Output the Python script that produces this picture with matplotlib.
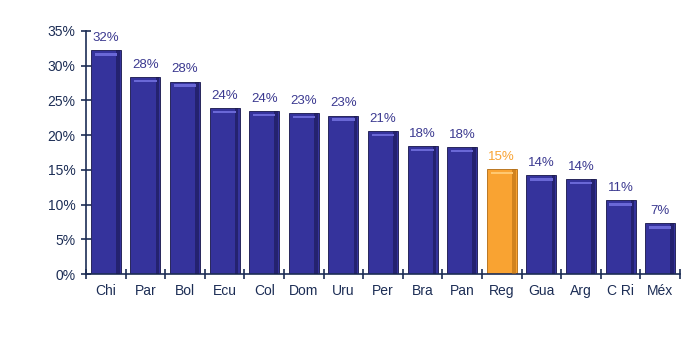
import numpy as np
import matplotlib
matplotlib.use('Agg')
import matplotlib.pyplot as plt
from matplotlib.ticker import FuncFormatter, FixedLocator

plt.rcParams['font.family'] = ['Liberation Sans', 'DejaVu Sans']

# Data
countries = ['Chi', 'Par', 'Bol', 'Ecu', 'Col', 'Dom', 'Uru', 'Per', 'Bra', 'Pan',
             'Reg', 'Gua', 'Arg', 'C Ri', 'Méx']
values = [32.2, 28.4, 27.7, 23.9, 23.5, 23.2, 22.8, 20.6, 18.4, 18.3,
          15.1, 14.2, 13.7, 10.6, 7.3]
highlight = 'Reg'

blue = '#35339c'
blue_dark = '#16154a'
blue_light = '#6a68d6'
orange = '#f9a332'
orange_dark = '#b06a10'
orange_light = '#ffc870'
axis_col = '#1c2d55'
label_col = '#3b3990'

fig = plt.figure(figsize=(6.98, 3.39), dpi=100)
ax = fig.add_axes([86 / 698, 65 / 339, 594 / 698, 243 / 339])

x = np.arange(len(countries))
w = 0.76
for xi, name, v in zip(x, countries, values):
    main, dark, light = (orange, orange_dark, orange_light) if name == highlight else (blue, blue_dark, blue_light)
    ax.bar(xi, v, width=w, color=main, edgecolor=dark, linewidth=0.6, zorder=2)
    # darker right side for the bevel look
    ax.bar(xi + w * 0.40, v, width=w * 0.12, color=dark, alpha=0.55, linewidth=0, zorder=3)
    # light strip near the top
    ax.bar(xi, 0.35, bottom=v - 0.75, width=w * 0.75, color=light, linewidth=0, zorder=3)
    ax.text(xi, v + 0.9, f'{v:.0f}%', ha='center', va='bottom', fontsize=9.5,
            color=orange if name == highlight else label_col, zorder=4)

ax.set_xlim(-0.5, len(countries) - 0.5)
ax.set_ylim(0, 35)
ax.yaxis.set_major_locator(FixedLocator(np.arange(0, 36, 5)))
ax.yaxis.set_major_formatter(FuncFormatter(lambda v, p: f'{v:.0f}%'))
ax.set_xticks(x)
ax.set_xticklabels(countries)
ax.xaxis.set_minor_locator(FixedLocator(np.arange(-0.5, len(countries), 1)))
ax.tick_params(axis='x', which='major', length=0, pad=7, labelsize=10, labelcolor=axis_col)
ax.tick_params(axis='x', which='minor', length=7, direction='inout', color=axis_col, width=1.2)
ax.tick_params(axis='y', length=7, direction='inout', color=axis_col, width=1.2,
               labelsize=10, labelcolor=axis_col, pad=4)

for s in ['top', 'right']:
    ax.spines[s].set_visible(False)
for s in ['left', 'bottom']:
    ax.spines[s].set_color(axis_col)
    ax.spines[s].set_linewidth(1.2)

fig.savefig('out.png', dpi=100)
